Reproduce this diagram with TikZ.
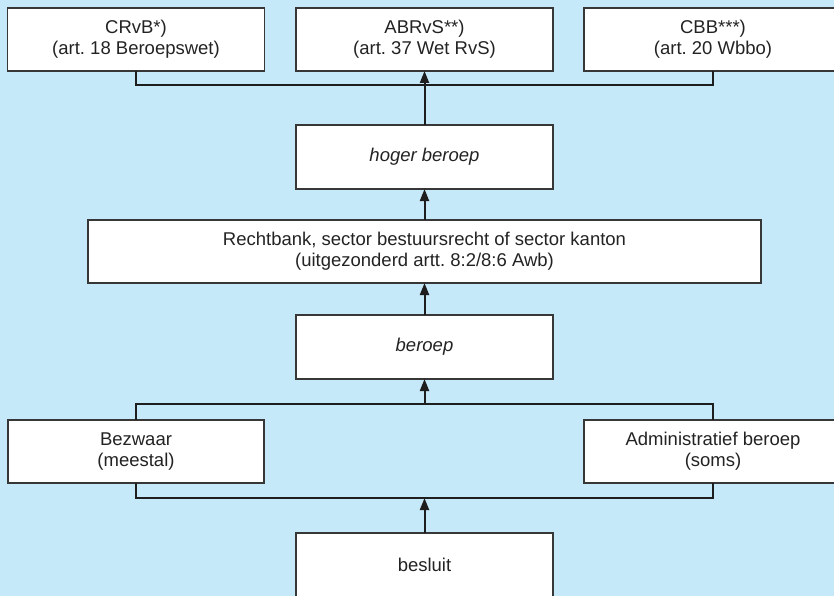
\documentclass[tikz,border=0pt]{standalone}
\usepackage{fontspec}
\setmainfont{Liberation Sans}
\usetikzlibrary{arrows.meta}
\definecolor{bgblue}{RGB}{198,233,249}
\definecolor{boxline}{RGB}{55,55,55}
\definecolor{conline}{RGB}{30,30,30}
\definecolor{txt}{RGB}{35,35,35}
\tikzset{
  box/.style={draw=boxline, fill=white, line width=1.1pt, inner sep=0pt, outer sep=0pt,
    minimum width=#1, minimum height=63pt, align=center,
    font=\fontsize{18.5}{21}\selectfont, text=txt},
  box/.default=257pt,
  conn/.style={draw=conline, line width=2pt},
  arr/.style={conn, -{Triangle[length=12pt,width=9pt]}}
}
\frenchspacing
\begin{document}
\begin{tikzpicture}[x=1pt,y=-1pt]
\useasboundingbox (0,0) rectangle (834,596);
\fill[bgblue] (0,0) rectangle (834,596);
\begin{scope}
\clip (0,0) rectangle (834,596);
% top row
\node[box] (crvb) at (136,39.5) {CRvB*)\\(art. 18 Beroepswet)};
\node[box] (abrvs) at (424.5,39.5) {ABRvS**)\\(art. 37 Wet RvS)};
\node[box=258pt] (cbb) at (713,39.5) {CBB***)\\(art. 20 Wbbo)};
% middle
\node[box, minimum height=64pt] (hoger) at (424.5,157) {\itshape hoger beroep};
\node[box=673pt] (rb) at (424.5,251.5) {Rechtbank, sector bestuursrecht of sector kanton\\(uitgezonderd artt. 8:2/8:6 Awb)};
\node[box, minimum height=64pt] (beroep) at (424.5,347) {\itshape beroep};
% lower
\node[box=256pt] (bezwaar) at (136,451.5) {Bezwaar\\(meestal)};
\node[box=258pt] (admin) at (713,451.5) {Administratief beroep\\(soms)};
\node[box, minimum height=64pt] (besluit) at (424.5,565) {besluit};
\end{scope}
% junction coordinates
\coordinate (tj) at (424.5,85);
\coordinate (uj) at (424.5,404);
\coordinate (lj) at (424.5,498);
% connectors
\draw[conn] (crvb.south) |- (tj) -| (cbb.south);
\draw[arr] (hoger.north) -- (abrvs.south);
\draw[arr] (rb.north) -- (hoger.south);
\draw[arr] (beroep.north) -- (rb.south);
\draw[conn] (bezwaar.north) |- (uj) -| (admin.north);
\draw[arr] (uj) -- (beroep.south);
\draw[conn] (bezwaar.south) |- (lj) -| (admin.south);
\draw[arr] (besluit.north) -- (lj);
\end{tikzpicture}
\end{document}
